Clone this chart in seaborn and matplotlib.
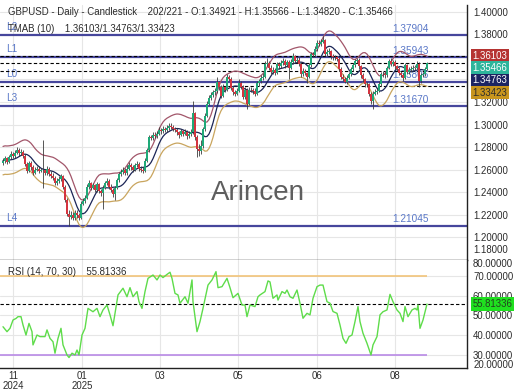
import numpy as np
import pandas as pd
import matplotlib
matplotlib.use("Agg")
import matplotlib.pyplot as plt
import matplotlib.transforms as mtransforms
import seaborn as sns

# ---------------- data ----------------
closes = [
    1.2680, 1.2700, 1.2665, 1.2710, 1.2740, 1.2720, 1.2750, 1.2770, 1.2745, 1.2760,
    1.2720, 1.2650, 1.2590, 1.2660, 1.2620, 1.2570, 1.2600, 1.2610, 1.2590, 1.2595,
    1.2595, 1.2570, 1.2610, 1.2560, 1.2545, 1.2530, 1.2480, 1.2500, 1.2520, 1.2540,
    1.2450, 1.2330, 1.2210, 1.2180, 1.2200, 1.2170, 1.2220, 1.2200, 1.2170, 1.2300,
    1.2320, 1.2350, 1.2450, 1.2480, 1.2440, 1.2460, 1.2420, 1.2470, 1.2410, 1.2390,
    1.2440, 1.2480, 1.2500, 1.2450, 1.2420, 1.2380, 1.2440, 1.2510, 1.2560, 1.2580,
    1.2600, 1.2570, 1.2610, 1.2640, 1.2620, 1.2600, 1.2640, 1.2650, 1.2610, 1.2600,
    1.2590, 1.2680, 1.2770, 1.2890, 1.2880, 1.2910, 1.2900, 1.2920, 1.2950, 1.2940,
    1.2960, 1.2950, 1.2970, 1.2990, 1.2980, 1.2960, 1.2950, 1.2930, 1.2910, 1.2940,
    1.2920, 1.2935, 1.2895, 1.2920, 1.2930, 1.3100, 1.2890, 1.2780, 1.2765, 1.2810,
    1.2960, 1.3080, 1.3185, 1.3235, 1.3265, 1.3285, 1.3295, 1.3375, 1.3335, 1.3255,
    1.3335, 1.3310, 1.3420, 1.3405, 1.3325, 1.3285, 1.3275, 1.3295, 1.3370, 1.3335,
    1.3245, 1.3305, 1.3185, 1.3310, 1.3305, 1.3300, 1.3275, 1.3365, 1.3385, 1.3415,
    1.3425, 1.3535, 1.3545, 1.3505, 1.3465, 1.3485, 1.3455, 1.3535, 1.3515, 1.3545,
    1.3565, 1.3525, 1.3555, 1.3505, 1.3555, 1.3605, 1.3565, 1.3575, 1.3535, 1.3445,
    1.3475, 1.3455, 1.3420, 1.3525, 1.3625, 1.3615, 1.3670, 1.3725, 1.3715, 1.3735,
    1.3745, 1.3625, 1.3645, 1.3650, 1.3605, 1.3595, 1.3595, 1.3585, 1.3495, 1.3425,
    1.3405, 1.3375, 1.3415, 1.3445, 1.3490, 1.3525, 1.3565, 1.3575, 1.3515, 1.3435,
    1.3400, 1.3355, 1.3355, 1.3275, 1.3205, 1.3275, 1.3290, 1.3300, 1.3360, 1.3445,
    1.3450, 1.3435, 1.3500, 1.3565, 1.3535, 1.3555, 1.3515, 1.3495, 1.3455, 1.3440,
    1.3415, 1.3525, 1.3465, 1.3485, 1.3495, 1.3505, 1.3505, 1.3535, 1.3385, 1.3435,
    1.3445, 1.34921, 1.35466,
]
opens = [
    1.2660, 1.2680, 1.2700, 1.2665, 1.2710, 1.2740, 1.2720, 1.2750, 1.2770, 1.2745,
    1.2760, 1.2720, 1.2650, 1.2590, 1.2660, 1.2620, 1.2570, 1.2600, 1.2610, 1.2590,
    1.2595, 1.2595, 1.2570, 1.2610, 1.2560, 1.2545, 1.2530, 1.2480, 1.2500, 1.2520,
    1.2540, 1.2450, 1.2330, 1.2210, 1.2180, 1.2200, 1.2170, 1.2220, 1.2200, 1.2170,
    1.2300, 1.2320, 1.2350, 1.2450, 1.2480, 1.2440, 1.2460, 1.2420, 1.2470, 1.2410,
    1.2390, 1.2440, 1.2480, 1.2500, 1.2450, 1.2420, 1.2380, 1.2440, 1.2510, 1.2560,
    1.2580, 1.2600, 1.2570, 1.2610, 1.2640, 1.2620, 1.2600, 1.2640, 1.2650, 1.2610,
    1.2600, 1.2590, 1.2680, 1.2770, 1.2890, 1.2880, 1.2910, 1.2900, 1.2920, 1.2950,
    1.2940, 1.2960, 1.2950, 1.2970, 1.2990, 1.2980, 1.2960, 1.2950, 1.2930, 1.2910,
    1.2940, 1.2920, 1.2935, 1.2895, 1.2920, 1.2930, 1.3100, 1.2890, 1.2780, 1.2765,
    1.2810, 1.2960, 1.3080, 1.3185, 1.3235, 1.3265, 1.3285, 1.3295, 1.3375, 1.3335,
    1.3255, 1.3335, 1.3310, 1.3420, 1.3405, 1.3325, 1.3285, 1.3275, 1.3295, 1.3370,
    1.3335, 1.3245, 1.3305, 1.3185, 1.3310, 1.3305, 1.3300, 1.3275, 1.3365, 1.3385,
    1.3415, 1.3425, 1.3535, 1.3545, 1.3505, 1.3465, 1.3485, 1.3455, 1.3535, 1.3515,
    1.3545, 1.3565, 1.3525, 1.3555, 1.3505, 1.3555, 1.3605, 1.3565, 1.3575, 1.3535,
    1.3445, 1.3475, 1.3455, 1.3420, 1.3525, 1.3625, 1.3615, 1.3670, 1.3725, 1.3715,
    1.3735, 1.3745, 1.3625, 1.3645, 1.3650, 1.3605, 1.3595, 1.3595, 1.3585, 1.3495,
    1.3425, 1.3405, 1.3375, 1.3415, 1.3445, 1.3490, 1.3525, 1.3565, 1.3575, 1.3515,
    1.3435, 1.3400, 1.3355, 1.3355, 1.3275, 1.3205, 1.3275, 1.3290, 1.3300, 1.3360,
    1.3445, 1.3450, 1.3435, 1.3500, 1.3565, 1.3535, 1.3555, 1.3515, 1.3495, 1.3455,
    1.3440, 1.3415, 1.3525, 1.3465, 1.3485, 1.3495, 1.3505, 1.3505, 1.3535, 1.3385,
    1.3435, 1.3445, 1.34921,
]
highs = [
    1.2705, 1.2720, 1.2715, 1.2730, 1.2765, 1.2760, 1.2775, 1.2800, 1.2790, 1.2780,
    1.2775, 1.2735, 1.2665, 1.2680, 1.2675, 1.2640, 1.2625, 1.2635, 1.2630, 1.2615,
    1.2860, 1.2610, 1.2630, 1.2625, 1.2585, 1.2570, 1.2545, 1.2525, 1.2545, 1.2560,
    1.2555, 1.2465, 1.2345, 1.2240, 1.2230, 1.2225, 1.2245, 1.2240, 1.2215, 1.2320,
    1.2345, 1.2375, 1.2470, 1.2505, 1.2495, 1.2485, 1.2475, 1.2490, 1.2485, 1.2430,
    1.2460, 1.2500, 1.2530, 1.2515, 1.2470, 1.2435, 1.2455, 1.2530, 1.2580, 1.2605,
    1.2625, 1.2615, 1.2640, 1.2665, 1.2655, 1.2640, 1.2660, 1.2675, 1.2665, 1.2630,
    1.2620, 1.2700, 1.2790, 1.2910, 1.2905, 1.2935, 1.2930, 1.2945, 1.2975, 1.2970,
    1.2985, 1.2980, 1.2995, 1.3015, 1.3010, 1.2995, 1.2980, 1.2965, 1.2945, 1.2960,
    1.2955, 1.2960, 1.2950, 1.2940, 1.2960, 1.3207, 1.3115, 1.2910, 1.2830, 1.2860,
    1.2980, 1.3100, 1.3205, 1.3260, 1.3290, 1.3305, 1.3320, 1.3424, 1.3390, 1.3350,
    1.3355, 1.3345, 1.3445, 1.3435, 1.3420, 1.3345, 1.3310, 1.3320, 1.3400, 1.3385,
    1.3350, 1.3330, 1.3320, 1.3330, 1.3335, 1.3320, 1.3320, 1.3385, 1.3405, 1.3440,
    1.3455, 1.3560, 1.3593, 1.3560, 1.3525, 1.3510, 1.3500, 1.3555, 1.3550, 1.3570,
    1.3590, 1.3580, 1.3575, 1.3570, 1.3580, 1.3633, 1.3620, 1.3600, 1.3595, 1.3550,
    1.3500, 1.3495, 1.3470, 1.3545, 1.3645, 1.3645, 1.3695, 1.3750, 1.3745, 1.3760,
    1.3788, 1.3760, 1.3670, 1.3680, 1.3665, 1.3625, 1.3620, 1.3610, 1.3600, 1.3510,
    1.3445, 1.3420, 1.3435, 1.3465, 1.3510, 1.3545, 1.3585, 1.3590, 1.3590, 1.3530,
    1.3455, 1.3415, 1.3380, 1.3370, 1.3290, 1.3300, 1.3315, 1.3325, 1.3385, 1.3465,
    1.3475, 1.3470, 1.3520, 1.3585, 1.3594, 1.3575, 1.3570, 1.3530, 1.3510, 1.3475,
    1.3460, 1.3545, 1.3540, 1.3510, 1.3520, 1.3525, 1.3530, 1.3560, 1.3550, 1.3460,
    1.3470, 1.3510, 1.35566,
]
lows = [
    1.2645, 1.2660, 1.2650, 1.2655, 1.2695, 1.2700, 1.2705, 1.2735, 1.2725, 1.2730,
    1.2700, 1.2630, 1.2570, 1.2575, 1.2600, 1.2555, 1.2560, 1.2585, 1.2570, 1.2575,
    1.2440, 1.2550, 1.2555, 1.2540, 1.2525, 1.2510, 1.2460, 1.2465, 1.2485, 1.2500,
    1.2430, 1.2310, 1.2190, 1.2100, 1.2160, 1.2150, 1.2155, 1.2175, 1.2150, 1.2160,
    1.2285, 1.2305, 1.2340, 1.2430, 1.2420, 1.2425, 1.2400, 1.2405, 1.2390, 1.2365,
    1.2250, 1.2425, 1.2460, 1.2430, 1.2400, 1.2360, 1.2330, 1.2430, 1.2495, 1.2540,
    1.2565, 1.2550, 1.2555, 1.2595, 1.2600, 1.2580, 1.2590, 1.2625, 1.2590, 1.2580,
    1.2570, 1.2580, 1.2665, 1.2760, 1.2860, 1.2865, 1.2880, 1.2885, 1.2905, 1.2920,
    1.2925, 1.2930, 1.2935, 1.2955, 1.2960, 1.2940, 1.2930, 1.2910, 1.2880, 1.2895,
    1.2900, 1.2905, 1.2875, 1.2880, 1.2900, 1.2920, 1.2860, 1.2708, 1.2720, 1.2740,
    1.2795, 1.2940, 1.3065, 1.3170, 1.3215, 1.3245, 1.3265, 1.3280, 1.3310, 1.3235,
    1.3240, 1.3290, 1.3300, 1.3385, 1.3305, 1.3265, 1.3255, 1.3260, 1.3285, 1.3315,
    1.3225, 1.3230, 1.3139, 1.3170, 1.3285, 1.3270, 1.3255, 1.3260, 1.3345, 1.3370,
    1.3395, 1.3410, 1.3520, 1.3485, 1.3445, 1.3450, 1.3435, 1.3445, 1.3495, 1.3500,
    1.3530, 1.3505, 1.3510, 1.3400, 1.3490, 1.3540, 1.3545, 1.3545, 1.3515, 1.3425,
    1.3430, 1.3435, 1.3370, 1.3410, 1.3510, 1.3595, 1.3600, 1.3655, 1.3695, 1.3700,
    1.3720, 1.3605, 1.3610, 1.3625, 1.3585, 1.3575, 1.3570, 1.3565, 1.3475, 1.3405,
    1.3385, 1.3365, 1.3360, 1.3400, 1.3430, 1.3475, 1.3510, 1.3545, 1.3495, 1.3415,
    1.3380, 1.3335, 1.3330, 1.3255, 1.3185, 1.3142, 1.3260, 1.3275, 1.3290, 1.3345,
    1.3425, 1.3415, 1.3420, 1.3490, 1.3515, 1.3520, 1.3495, 1.3475, 1.3435, 1.3420,
    1.3390, 1.3405, 1.3445, 1.3450, 1.3470, 1.3480, 1.3485, 1.3490, 1.3333, 1.3370,
    1.3420, 1.3430, 1.34820,
]

rsi_bar = [
    0, 2, 3.5, 5, 6.5, 7.5, 9, 10, 11.5, 13,
    14.5, 15, 17, 18.5, 21, 22, 23.5, 25, 26, 27.5,
    29, 30, 32, 33, 34.5, 36, 37, 38, 39.5, 41,
    42.5, 45, 47, 48.5, 50, 52, 53.5, 55, 56, 57.5,
    60, 62, 63.5, 65, 67, 68, 69.5, 71, 72.5, 75,
    77, 78.5, 80, 82, 83.5, 84.5, 86, 87.5, 88.5, 91,
    92.5, 94.5, 95, 97, 98.5, 100, 102.5, 104.5, 106.5, 107.5,
    109.5, 112, 113.5, 115, 117.5, 119.5, 121, 122, 123.5, 126,
    127.5, 128.5, 131, 132.5, 133.5, 135, 137, 137.5, 139.5, 141,
    142, 143.5, 145, 147, 148.5, 150, 152, 153.5, 155, 157,
    158.5, 160, 162, 163.5, 165, 167, 168.5, 170, 171.5, 173,
    174.5, 176, 177.5, 178.5, 180, 182, 184, 185, 187, 188.5,
    190, 192, 193.5, 195, 197, 198.5, 200, 201, 202.5, 204.5,
    206, 207, 207.5, 208.5, 210, 212,
]
rsi_val = [
    44.3, 41.8, 43.5, 47.7, 48.5, 49.4, 49.4, 45.2, 40.1, 46.0,
    41.8, 35.1, 40.1, 39.3, 39.3, 42.7, 38.4, 36.7, 30.9, 38.4,
    43.5, 35.1, 30.0, 28.7, 30.9, 30.0, 32.5, 30.0, 40.1, 43.5,
    53.6, 51.9, 53.6, 49.4, 52.8, 55.3, 50.3, 44.8, 51.1, 60.4,
    63.8, 59.5, 64.1, 59.5, 62.1, 57.0, 53.6, 62.1, 68.8, 70.5,
    68.0, 70.5, 69.2, 70.8, 71.9, 68.8, 61.2, 60.4, 56.2, 59.5,
    56.2, 68.0, 57.0, 41.8, 46.9, 53.6, 65.4, 68.0, 72.2, 64.1,
    64.6, 68.8, 64.1, 59.0, 61.2, 55.3, 55.3, 49.4, 55.3, 54.5,
    59.5, 60.4, 62.1, 67.5, 67.0, 58.7, 60.4, 57.8, 62.1, 61.2,
    62.9, 59.5, 58.7, 62.9, 56.2, 48.6, 51.1, 50.3, 58.7, 64.6,
    65.4, 65.4, 57.0, 56.2, 52.0, 51.1, 45.2, 38.4, 35.9, 39.3,
    40.1, 46.9, 54.5, 46.9, 41.0, 35.9, 30.0, 35.1, 39.3, 50.3,
    51.9, 52.8, 60.7, 57.0, 52.8, 51.1, 46.9, 54.5, 49.4, 52.8,
    53.6, 52.8, 55.3, 43.5, 47.7, 55.81336,
]

level_names = ["L2", "L1", "L0", "L3", "L4"]
level_values = [1.37904, 1.35943, 1.33806, 1.31670, 1.21045]
tmab_values = [1.36103, 1.34763, 1.33423]
tmab_period = 10
tmab_band = 0.00994
last_close = 1.35466
rsi_last = 55.81336
rsi_upper, rsi_lower = 70, 30
price_ticks = [1.20, 1.22, 1.24, 1.26, 1.28, 1.30, 1.32, 1.34, 1.36, 1.38, 1.40]
hidden_price_ticks = [1.34, 1.36]   # covered by the value boxes in the reference
rsi_ticks = [30, 40, 50, 60, 70]
month_tick_bars = [5, 39.5, 78.5, 117.5, 157, 196]
month_tick_labels = ["11\n2024", "01\n2025", "03", "05", "06", "08"]
title_text = ("GBPUSD - Daily - Candlestick    202/221 - O:1.34921 - H:1.35566 - "
              "L:1.34820 - C:1.35466")
tmab_text = "TMAB (10)    1.36103/1.34763/1.33423"
rsi_text = "RSI (14, 70, 30)    55.81336"

# ---------------- styling ----------------
sns.set_theme(style="white")
plt.rcParams['font.family'] = ['Liberation Sans', 'DejaVu Sans']
FS = 6.9
TXT = '#2b2b2b'

df = pd.DataFrame({"bar": np.arange(len(closes)), "open": opens, "high": highs,
                   "low": lows, "close": closes})
half = tmab_period // 2
sma = df["close"].rolling(half, min_periods=1).mean()
df["mid"] = sma.rolling(half + 1, min_periods=1).mean()
df["upper"] = df["mid"] * (1 + tmab_band)
df["lower"] = df["mid"] * (1 - tmab_band)

fig = plt.figure(figsize=(5.2, 3.9), dpi=100)
fig.patch.set_facecolor('white')
W = 467 / 520
ax = fig.add_axes([0, 1 - 260 / 390, W, 255 / 390])
ax2 = fig.add_axes([0, 1 - 368 / 390, W, 108 / 390], sharex=ax)

ax.set_xlim(-1.5, 232)
ax.set_ylim(1.17993, 1.40596)
ax2.set_ylim(23.4, 78.1)

# grid
for a in (ax, ax2):
    a.set_facecolor('white')
    a.set_xticks(month_tick_bars)
    a.grid(True, color='#e6e6e6', lw=0.8, zorder=0)
    a.set_axisbelow(True)
    for s in ("left", "top"):
        a.spines[s].set_visible(False)
    for s in ("right", "bottom"):
        a.spines[s].set_visible(True)
        a.spines[s].set_color('#222222')
        a.spines[s].set_linewidth(1.0)


def price_fmt(v, pos):
    for h in hidden_price_ticks:
        if abs(v - h) < 1e-9:
            return ""
    return f"{v:.5f}"


ax.set_yticks(price_ticks)
ax.yaxis.tick_right()
ax.yaxis.set_major_formatter(matplotlib.ticker.FuncFormatter(price_fmt))
ax.tick_params(axis='y', length=0, pad=4.3, labelsize=FS, labelcolor=TXT)
ax.tick_params(axis='x', length=0, labelbottom=False)

ax2.set_yticks(rsi_ticks)
ax2.yaxis.tick_right()
ax2.yaxis.set_major_formatter(matplotlib.ticker.FormatStrFormatter('%.5f'))
ax2.tick_params(axis='y', length=0, pad=4.3, labelsize=FS, labelcolor=TXT)
ax2.set_xticks(month_tick_bars, month_tick_labels)
ax2.tick_params(axis='x', length=0, pad=2, labelsize=FS, labelcolor=TXT)
for lab in ax2.get_xticklabels():
    lab.set_linespacing(1.05)

# clamped edge labels
ax.text(1.013, 0.039, "1.18000", transform=ax.transAxes, fontsize=FS, color=TXT,
        va='center', ha='left', clip_on=False)
ax2.text(1.013, 0.963, "80.00000", transform=ax2.transAxes, fontsize=FS, color=TXT,
         va='center', ha='left', clip_on=False)
ax2.text(1.013, 0.028, "20.00000", transform=ax2.transAxes, fontsize=FS, color=TXT,
         va='center', ha='left', clip_on=False)

# level lines
blend = mtransforms.blended_transform_factory(ax.transAxes, ax.transData)
for name, v in zip(level_names, level_values):
    ax.axhline(v, color='#46469c', lw=1.6, zorder=1.5)
    ax.annotate(name, xy=(0.013, v), xycoords=blend, xytext=(0, 2.2),
                textcoords='offset points', va='bottom', ha='left',
                fontsize=7.2, color='#5a78c8', zorder=1.6)
    ax.annotate(f"{v:.5f}", xy=(0.878, v), xycoords=blend, xytext=(0, 0.8),
                textcoords='offset points', va='bottom', ha='center',
                fontsize=7.2, color='#5a78c8', zorder=1.6)
for v in tmab_values + [last_close]:
    ax.axhline(v, color='black', lw=0.8, ls=(0, (3, 2)), zorder=1.6)

# bands (TMAB)
sns.lineplot(data=df, x="bar", y="upper", ax=ax, color='#a2566a', lw=0.9,
             estimator=None, zorder=2)
sns.lineplot(data=df, x="bar", y="mid", ax=ax, color='#1b2556', lw=0.9,
             estimator=None, zorder=2)
sns.lineplot(data=df, x="bar", y="lower", ax=ax, color='#c9a55e', lw=0.9,
             estimator=None, zorder=2)

# candles
o = df["open"].to_numpy(); c = df["close"].to_numpy()
colors = np.where(c > o, '#1fa978', np.where(c < o, '#d4343f', '#8a8a8a'))
ax.vlines(df["bar"], df["low"], df["high"], color='#3c3c3c', lw=0.6, zorder=3)
body = np.maximum(np.abs(c - o), 0.0004)
ax.bar(df["bar"], body, bottom=np.minimum(o, c), width=0.8, color=colors,
       linewidth=0, zorder=4)
ax.set_xlabel(""); ax.set_ylabel("")

# texts in main panel
ax.text(0.0171, 0.9725, title_text, transform=ax.transAxes, fontsize=FS,
        color=TXT, va='center', ha='left', zorder=6)
ax.text(0.0171, 0.906, tmab_text, transform=ax.transAxes, fontsize=FS,
        color=TXT, va='center', ha='left', zorder=6)
ax.text(0.5525, 0.263, "Arincen", transform=ax.transAxes, fontsize=20,
        color='#5e5e5e', va='center', ha='center', zorder=1)

# right value boxes (stacked so they do not overlap)
box_vals = [tmab_values[0], last_close, tmab_values[1], tmab_values[2]]
box_fc = ['#b53331', '#2db59b', '#1c2462', '#c8951d']
box_tc = ['white', 'white', 'white', '#2b2b2b']
gap = 12.3
prev = None
for v, fc, tc in zip(box_vals, box_fc, box_tc):
    yd = ax.transData.transform((0, v))[1]
    if prev is not None and yd > prev - gap:
        yd = prev - gap
    prev = yd
    yf = ax.transAxes.inverted().transform((0, yd))[1]
    ax.text(1.012, yf, f"{v:.5f}", transform=ax.transAxes, fontsize=FS,
            color=tc, va='center', ha='left', clip_on=False, zorder=10,
            bbox=dict(boxstyle='square,pad=0.18', fc=fc, ec='none'))

# RSI panel
ax2.hlines(rsi_upper, -1.5, len(closes) - 1, color='#f2c47a', lw=1.2, zorder=2)
ax2.hlines(rsi_lower, -1.5, len(closes) - 1, color='#b98ae6', lw=1.2, zorder=2)
ax2.axhline(rsi_last, color='black', lw=0.8, ls=(0, (3, 2)), zorder=2)
rdf = pd.DataFrame({"bar": rsi_bar, "rsi": rsi_val})
sns.lineplot(data=rdf, x="bar", y="rsi", ax=ax2, color='#5edc4a', lw=1.0,
             estimator=None, sort=False, zorder=3)
ax2.set_xlabel(""); ax2.set_ylabel("")
ax2.text(0.0171, 0.889, rsi_text, transform=ax2.transAxes, fontsize=FS,
         color=TXT, va='center', ha='left')
yr = ax2.transAxes.inverted().transform(ax2.transData.transform((0, rsi_last)))[1]
ax2.text(1.012, yr, f"{rsi_last:.5f}", transform=ax2.transAxes, fontsize=FS,
         color='#24401f', va='center', ha='left', clip_on=False, zorder=10,
         bbox=dict(boxstyle='square,pad=0.18', fc='#1fe01f', ec='none'))

fig.savefig("out.png", dpi=100, facecolor='white')
